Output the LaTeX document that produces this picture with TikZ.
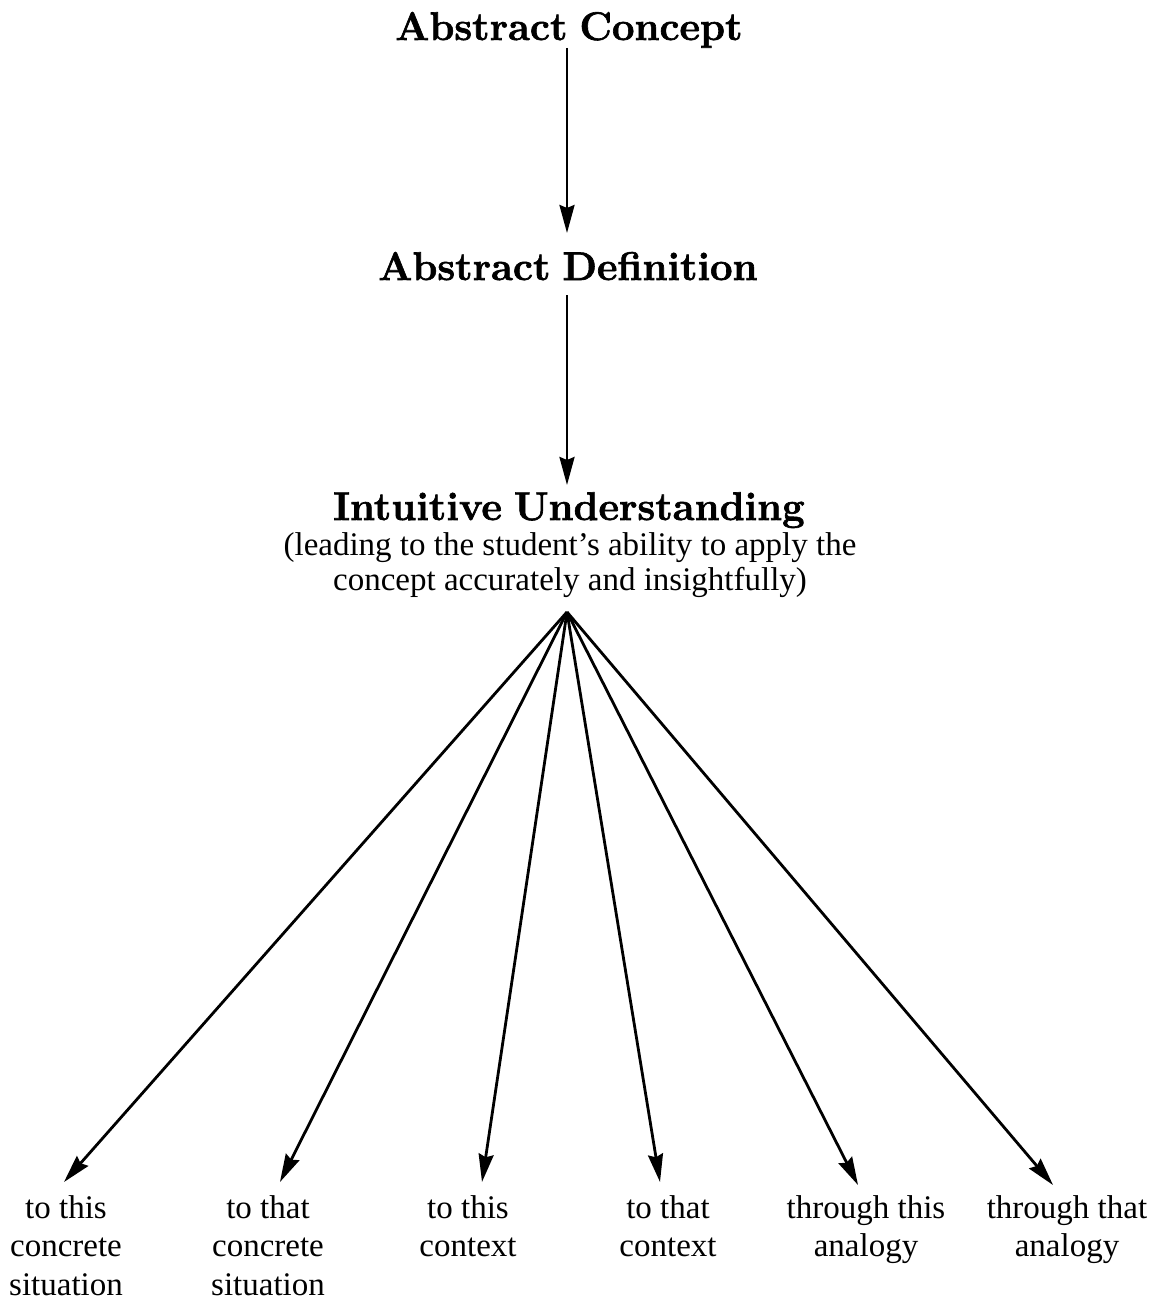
\documentclass[tikz,border=0pt]{standalone}
\usepackage{fontspec}
\newfontfamily\bodyfont{Liberation Serif}
\newfontfamily\headfont[FakeBold=1.6,WordSpace=0.8]{Latin Modern Roman}
\usetikzlibrary{arrows.meta}
\begin{document}
\begin{tikzpicture}[x=1pt,y=-1pt,
  head/.style={font=\headfont\fontsize{40}{44}\selectfont\bfseries, inner sep=0pt, anchor=base},
  sub/.style={font=\bodyfont\fontsize{33}{35}\selectfont, inner sep=0pt, anchor=base, align=center},
  leaf/.style={font=\bodyfont\fontsize{33}{38.5}\selectfont, inner sep=0pt, anchor=north, align=center},
  arr/.style={line width=2.8pt, -{Stealth[length=28pt,width=15pt,inset=3pt]}}
]
\useasboundingbox (0,0) rectangle (1156,1300);
\node[head] (ac) at (569,40) {Abstract Concept};
\node[head] (ad) at (568,280) {Abstract Definition};
\node[head] (iu) at (569,520) {Intuitive Understanding};
\node[sub] (s1) at (570,555) {(leading to the student’s ability to apply the};
\node[sub] (s2) at (570,590) {concept accurately and insightfully)};
\coordinate (fan) at (567,612);
\coordinate (a1) at (567,48);
\coordinate (a2) at (567,233);
\coordinate (b1) at (567,295);
\coordinate (b2) at (567,485);
\draw[arr] (a1) -- (a2);
\draw[arr] (b1) -- (b2);
\node[leaf] (l1) at (66,1195) {to this\\concrete\\situation};
\node[leaf] (l2) at (268,1195) {to that\\concrete\\situation};
\node[leaf] (l3) at (468,1195) {to this\\context};
\node[leaf] (l4) at (668,1195) {to that\\context};
\node[leaf] (l5) at (866,1195) {through this\\analogy};
\node[leaf] (l6) at (1067,1195) {through that\\analogy};
\draw[arr] (fan) -- ([shift={(-2,-13)}]l1.north);
\draw[arr] (fan) -- ([shift={(12,-13)}]l2.north);
\draw[arr] (fan) -- ([shift={(14,-13)}]l3.north);
\draw[arr] (fan) -- ([shift={(-8,-13)}]l4.north);
\draw[arr] (fan) -- ([shift={(-8,-10)}]l5.north);
\draw[arr] (fan) -- ([shift={(-14,-10)}]l6.north);
\end{tikzpicture}
\end{document}
